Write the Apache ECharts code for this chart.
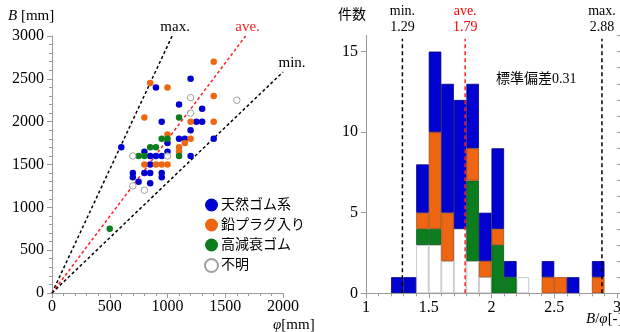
<!DOCTYPE html>
<html><head><meta charset="utf-8">
<script src="https://cdn.jsdelivr.net/npm/echarts@6/dist/echarts.min.js"></script>
<style>html,body{margin:0;padding:0;background:#fff}#c{width:620px;height:332px}</style>
</head><body><div id="c"></div>
<script>
// ---------- data ----------
const seriesNames = ['天然ゴム系', '鉛プラグ入り', '高減衰ゴム', '不明'];
// scatter: [phi (mm), B (mm)]
const natural = [[600,1700],[900,2400],[1200,2500],[1100,2200],[1300,2150],[950,2000],[1250,2000],[1300,2000],[1200,1900],[1100,1800],[1150,1800],[1400,1800],[1000,1750],[1000,1650],[1200,1600],[800,1650],[850,1600],[900,1600],[950,1600],[850,1500],[700,1400],[700,1350],[750,1300],[800,1400],[850,1400],[850,1280],[950,1400],[950,1350]];
const leadPlug = [[850,2450],[1000,2400],[1400,2700],[1400,2300],[800,2050],[1200,2000],[1400,2000],[1000,1850],[1200,1800],[1150,1750],[1100,1700],[1100,1650],[800,1500],[900,1500],[950,1500],[1000,1500]];
const highDamp = [[500,750],[1100,2050],[950,1800],[1000,1800],[850,1700],[900,1700],[750,1600],[800,1600],[1100,1600]];
const unknown = [[1200,2280],[1200,2100],[1600,2250],[700,1600],[1000,1600],[700,1250],[800,1200]];
// ratio guide lines in the scatter plot (end points)
const maxLine = [[0,0],[1040,3000]];
const aveLine = [[0,0],[1676,3000]];
const minLine = [[0,0],[2000,2580]];
const lineLabels = ['max.', 'ave.', 'min.'];
// histogram of B/phi : bins of width 0.1 starting at 1.0
const binStarts = ['1.0','1.1','1.2','1.3','1.4','1.5','1.6','1.7','1.8','1.9','2.0','2.1','2.2','2.3','2.4','2.5','2.6','2.7','2.8','2.9'];
const cntUnknown  = [0,0,0,0,3,3,2,4,2,1,0,0,1,0,0,0,0,0,0,0];
const cntHighDamp = [0,0,0,0,1,1,0,0,5,0,3,1,0,0,0,0,0,0,0,0];
const cntLeadPlug = [0,0,0,0,1,6,3,0,2,1,1,0,0,0,1,1,0,0,1,0];
const cntNatural  = [0,0,1,1,3,5,8,8,4,3,5,1,0,0,1,0,1,0,1,0];
const statNames = ['min.', 'ave.', 'max.'];
const statValues = [1.29, 1.79, 2.88];
const statTop = 15.8;
const stdText = '標準偏差0.31';
const yMajorRight = [0, 5, 10, 15];

// ---------- style ----------
const SERIF = "'Liberation Serif','Noto Sans CJK JP',serif";
const BLUE = '#0000d0', ORANGE = '#ee6611', GREEN = '#0b7d1c', GRAY = '#9a9a9a';
const G0 = {left: 52, top: 36, width: 231, height: 257};
const G1 = {left: 366, top: 35.5, width: 251, height: 257.8};
const plain = v => String(v);

const axisCommon = {
  axisLine: {show: true, onZero: false, lineStyle: {color: GRAY, width: 1}},
  axisTick: {show: true, length: 5, lineStyle: {color: GRAY}},
  minorTick: {show: true, splitNumber: 5, length: 3, lineStyle: {color: GRAY}},
  splitLine: {show: false},
  axisLabel: {color: '#000', fontFamily: SERIF, fontSize: 16, formatter: plain}
};

const chart = echarts.init(document.getElementById('c'), null, {renderer: 'canvas'});
const sc = (name, data, color, hollow) => ({
  type: 'scatter', name, data, xAxisIndex: 0, yAxisIndex: 0, symbol: 'circle', symbolSize: 6.5, z: 5,
  itemStyle: hollow ? {color: '#fff', borderColor: '#8a8a8a', borderWidth: 1} : {color, borderWidth: 0, opacity: 1}
});
const guide = (data, color, label, offset) => ({
  type: 'line', xAxisIndex: 0, yAxisIndex: 0, symbol: 'circle', symbolSize: 1, showSymbol: true, silent: true, z: 3,
  itemStyle: {color: 'rgba(0,0,0,0)'},
  data: data.map((p, i) => i === data.length - 1
    ? {value: p, label: {show: true, formatter: label, position: 'top', distance: 1, offset, color, fontFamily: SERIF, fontSize: 15}}
    : {value: p, label: {show: false}}),
  lineStyle: {color, width: 1.5, type: [3, 2.5]}
});
const hb = (name, counts, color, border) => ({
  type: 'bar', name: 'h_' + name, stack: 'hist', xAxisIndex: 2, yAxisIndex: 1, barWidth: '100%', barCategoryGap: 0,
  data: counts.map(v => v > 0 ? v : '-'),
  itemStyle: {color, borderColor: border, borderWidth: 0.8}, silent: true, z: 2
});
const statLine = (i) => ({
  type: 'line', xAxisIndex: 1, yAxisIndex: 1, symbol: 'circle', symbolSize: 1, showSymbol: true, silent: true, z: 6,
  itemStyle: {color: 'rgba(0,0,0,0)'},
  data: [{value: [statValues[i], 0], label: {show: false}}, {value: [statValues[i], statTop], label: {show: true, position: 'top', distance: 3,
    formatter: statNames[i] + '\n' + statValues[i].toFixed(2), color: i === 1 ? '#ff0000' : '#000', fontFamily: SERIF, fontSize: 14, lineHeight: 16, align: 'center'}}],
  lineStyle: {color: i === 1 ? '#ff2020' : '#000', width: 1.5, type: [4, 3]}
});

chart.setOption({
  animation: false,
  backgroundColor: '#fff',
  grid: [
    Object.assign({containLabel: false, outerBoundsMode: 'none'}, G0),
    Object.assign({containLabel: false, outerBoundsMode: 'none'}, G1)
  ],
  xAxis: [
    Object.assign({}, axisCommon, {type: 'value', gridIndex: 0, min: 0, max: 2000, interval: 500,
      axisLabel: Object.assign({}, axisCommon.axisLabel, {margin: 6})}),
    Object.assign({}, axisCommon, {type: 'value', gridIndex: 1, min: 1, max: 3, interval: 0.5, z: 10,
      axisLabel: Object.assign({}, axisCommon.axisLabel, {margin: 6})}),
    {type: 'category', gridIndex: 1, data: binStarts, boundaryGap: true, show: false}
  ],
  yAxis: [
    Object.assign({}, axisCommon, {type: 'value', gridIndex: 0, min: 0, max: 3000, interval: 500,
      axisLabel: Object.assign({}, axisCommon.axisLabel, {margin: 8})}),
    Object.assign({}, axisCommon, {type: 'value', gridIndex: 1, min: 0, max: 16, interval: 5,
      minorTick: {show: false},
      axisTick: {show: true, length: 5, lineStyle: {color: GRAY}, customValues: yMajorRight},
      axisLabel: Object.assign({}, axisCommon.axisLabel, {margin: 8, customValues: yMajorRight})}),
    {type: 'value', gridIndex: 1, min: 0, max: 16, interval: 1,
      axisLine: {show: false}, axisLabel: {show: false}, splitLine: {show: false}, minorTick: {show: false},
      axisTick: {show: true, length: 3, lineStyle: {color: GRAY}}}
  ],
  legend: {
    show: true, orient: 'vertical', left: 204, top: 198, itemWidth: 13, itemHeight: 13, itemGap: 6, padding: 0,
    icon: 'circle', selectedMode: false,
    textStyle: {color: '#000', fontFamily: SERIF, fontSize: 14, lineHeight: 14, padding: [0, 0, 0, -2]},
    data: seriesNames
  },
  graphic: [
    {type: 'text', left: 8, top: 9, style: {text: '{i|B} [mm]', font: '15px ' + SERIF, fill: '#000',
      rich: {i: {fontStyle: 'italic', fontFamily: SERIF, fontSize: 15}}}},
    {type: 'text', left: 273, top: 318, style: {text: '{i|φ}[mm]', font: '15px ' + SERIF, fill: '#000',
      rich: {i: {fontStyle: 'italic', fontFamily: SERIF, fontSize: 15}}}},
    {type: 'text', left: 338, top: 8, style: {text: '件数', font: '14px ' + SERIF, fill: '#000'}},
    {type: 'text', left: 586, top: 312, style: {text: '{i|B}/{i|φ}[-]', font: '15px ' + SERIF, fill: '#000',
      rich: {i: {fontStyle: 'italic', fontFamily: SERIF, fontSize: 15}}}},
    {type: 'text', left: 496, top: 72, style: {text: stdText, font: '14px ' + SERIF, fill: '#000'}}
  ],
  series: [
    sc(seriesNames[0], natural, BLUE),
    sc(seriesNames[1], leadPlug, ORANGE),
    sc(seriesNames[2], highDamp, GREEN),
    sc(seriesNames[3], unknown, '#fff', true),
    guide(maxLine, '#000', lineLabels[0], [3, 0]),
    guide(aveLine, '#ff2020', lineLabels[1], [2, 0]),
    guide(minLine, '#000', lineLabels[2], [9, 0]),
    hb(seriesNames[3], cntUnknown, '#ffffff', '#bbbbbb'),
    hb(seriesNames[2], cntHighDamp, GREEN, '#06551a'),
    hb(seriesNames[1], cntLeadPlug, ORANGE, '#a84a0c'),
    hb(seriesNames[0], cntNatural, BLUE, '#000080'),
    statLine(0), statLine(1), statLine(2)
  ]
});
</script>
</body></html>
